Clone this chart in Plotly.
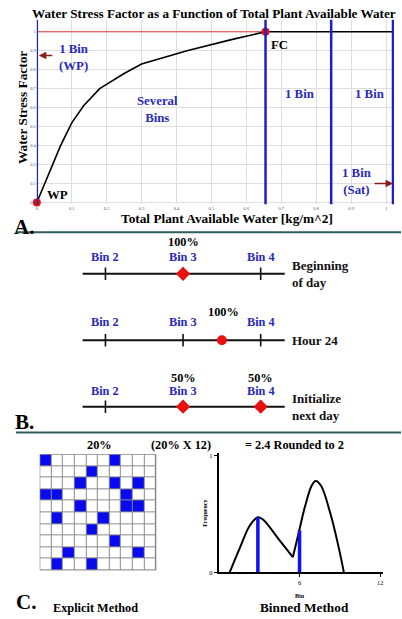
import plotly.graph_objects as go

W, H = 402, 619

# ---------------- Panel A data ----------------
paw_x = [0, 0.034, 0.068, 0.10, 0.134, 0.18, 0.25, 0.30, 0.43, 0.56, 0.655]
wsf_y = [0.10, 0.25, 0.40, 0.52, 0.61, 0.70, 0.78, 0.83, 0.90, 0.96, 1.00]
wp_point = (0.0, 0.10)
fc_point = (0.655, 1.0)
bin_edges = [0.0, 0.655, 0.843, 1.02]
a_xticks = [0, 0.1, 0.2, 0.3, 0.4, 0.5, 0.6, 0.7, 0.8, 0.9, 1.0]
a_yticks = [0.1, 0.2, 0.3, 0.4, 0.5, 0.6, 0.7, 0.8, 0.9, 1.0]

# ---------------- Panel B data ----------------
bin_labels = ["Bin 2", "Bin 3", "Bin 4"]
bin_pos = [2, 3, 4]
row_names = ["Beginning<br>of day", "Hour 24", "Initialize<br>next day"]
row_y = [3, 2, 1]
state_pos = [[3.0], [3.5], [3.0, 4.0]]
state_pct = [["100%"], ["100%"], ["50%", "50%"]]
line_span = [1.705, 4.31]

# ---------------- Panel C data ----------------
grid_n = 10
blue_cells = [(0, 0), (0, 6), (1, 4), (2, 3), (2, 6), (2, 8), (3, 0), (3, 1), (3, 7),
              (4, 3), (4, 7), (4, 8), (5, 1), (5, 5), (6, 4), (7, 6), (8, 2), (8, 8),
              (9, 1), (9, 4)]
freq_x1 = [0.8, 1.6, 2.3, 2.9, 3.3, 4.4, 5.5]
freq_y1 = [0.0, 0.22, 0.40, 0.47, 0.45, 0.29, 0.13]
freq_x2 = [5.5, 5.9, 6.4, 6.9, 7.2, 7.6, 8.3, 8.9, 9.3]
freq_y2 = [0.13, 0.32, 0.56, 0.74, 0.78, 0.74, 0.50, 0.22, 0.0]
sample_bins = [2.9, 6.0]
sample_freq = [0.47, 0.36]
c_xticks = [6, 12]
c_yticks = [0, 1]

SERIF = "Liberation Serif"
BLUE = "#1f1fc8"
TXTBLUE = "#2a2ac0"
DARKRED = "#8b1a1a"


def px(x):
    return x / W


def py(y):
    return 1 - y / H


fig = go.Figure()

# ---- Panel A traces ----
fig.add_trace(go.Scatter(x=[0, fc_point[0]], y=[1.0, 1.0], mode="lines",
                         line=dict(color="#d83a3a", width=1), xaxis="x", yaxis="y",
                         hoverinfo="skip"))
fig.add_trace(go.Scatter(x=[fc_point[0], bin_edges[-1]], y=[1.0, 1.0], mode="lines",
                         line=dict(color="black", width=1.5), xaxis="x", yaxis="y",
                         hoverinfo="skip"))
fig.add_trace(go.Scatter(x=paw_x, y=wsf_y, mode="lines", line=dict(color="black", width=1.6),
                         xaxis="x", yaxis="y"))
fig.add_trace(go.Scatter(x=[wp_point[0], fc_point[0]], y=[wp_point[1], fc_point[1]], mode="markers",
                         marker=dict(color="#e01010", size=8), xaxis="x", yaxis="y",
                         cliponaxis=False))

shapes = []
for e in bin_edges:
    shapes.append(dict(type="line", xref="x", yref="y domain", x0=e, x1=e, y0=0, y1=1,
                       line=dict(color=BLUE, width=2.5), layer="above"))

# ---- Panel B traces ----
for i, ry in enumerate(row_y):
    fig.add_trace(go.Scatter(x=line_span, y=[ry, ry], mode="lines",
                             line=dict(color="#111", width=2), xaxis="x2", yaxis="y2"))
    fig.add_trace(go.Scatter(x=bin_pos, y=[ry] * len(bin_pos), mode="markers",
                             marker=dict(symbol="line-ns", size=9,
                                         line=dict(color="#111", width=1.6)),
                             xaxis="x2", yaxis="y2"))
    sym = "circle" if len(state_pos[i]) == 1 and state_pos[i][0] not in bin_pos else "diamond"
    fig.add_trace(go.Scatter(x=state_pos[i], y=[ry] * len(state_pos[i]), mode="markers",
                             marker=dict(symbol=sym, size=11 if sym == "diamond" else 10,
                                         color="#e81010"),
                             xaxis="x2", yaxis="y2"))

# ---- Panel C grid ----
z = [[0] * grid_n for _ in range(grid_n)]
for r, c in blue_cells:
    z[r][c] = 1
fig.add_trace(go.Heatmap(z=z, x=list(range(grid_n)), y=list(range(grid_n)),
                         colorscale=[[0, "white"], [1, "#0a0af0"]], showscale=False,
                         xgap=1, ygap=1, xaxis="x3", yaxis="y3", hoverinfo="skip"))
shapes.append(dict(type="rect", xref="x3", yref="y3", x0=-0.5, x1=grid_n - 0.5,
                   y0=-0.5, y1=grid_n - 0.5, fillcolor="#8a8a8a",
                   line=dict(color="#8a8a8a", width=1), layer="below"))
shapes.append(dict(type="rect", xref="x3", yref="y3", x0=-0.5, x1=grid_n - 0.5,
                   y0=-0.5, y1=grid_n - 0.5, line=dict(color="#8a8a8a", width=1),
                   layer="above"))

# ---- Panel C binned ----
for xs, ys in ((freq_x1, freq_y1), (freq_x2, freq_y2)):
    fig.add_trace(go.Scatter(x=xs, y=ys, mode="lines", line=dict(color="black", width=2, shape="spline"),
                             xaxis="x4", yaxis="y4", cliponaxis=False))
for bx, bf in zip(sample_bins, sample_freq):
    fig.add_trace(go.Scatter(x=[bx, bx], y=[0, bf], mode="lines",
                             line=dict(color="#1010f0", width=3.5), xaxis="x4", yaxis="y4"))

# separators
for yy in (232, 434):
    shapes.append(dict(type="line", xref="paper", yref="paper", x0=px(15), x1=px(402),
                       y0=py(yy), y1=py(yy), line=dict(color="#2e5f5a", width=2)))

ann = []


def T(text, x, y, size=11, color="black", bold=True, xanchor="center", angle=0, family=SERIF, align="center"):
    ann.append(dict(text=("<b>%s</b>" % text) if bold else text, x=px(x), y=py(y), xref="paper",
                    yref="paper", showarrow=False, xanchor=xanchor, yanchor="middle",
                    textangle=angle, align=align,
                    font=dict(family=family, size=size, color=color)))


# Panel A texts
T("Water Stress Factor as a Function of Total Plant Available Water", 214, 12, size=13.2)
T("Water Stress Factor", 21, 106, size=13.3, angle=-90)
T("Total Plant Available Water [kg/m^2]", 227, 218, size=13.3)
T("1 Bin<br>(WP)", 73, 56, size=12.8, color=TXTBLUE)
T("Several<br>Bins", 157, 108, size=12.8, color=TXTBLUE)
T("1 Bin", 300, 93, size=12.8, color=TXTBLUE)
T("1 Bin", 370, 93, size=12.8, color=TXTBLUE)
T("1 Bin<br>(Sat)", 357, 181, size=12.8, color=TXTBLUE)
T("FC", 280, 43, size=12.8)
T("WP", 57, 195, size=12.8)
T("A.", 23, 227, size=21)
ann.append(dict(text="", x=px(38), y=py(54), xref="paper", yref="paper", ax=15, ay=0,
                showarrow=True, arrowhead=2, arrowsize=1, arrowwidth=1.5, arrowcolor=DARKRED))
ann.append(dict(text="", x=px(394), y=py(183), xref="paper", yref="paper", ax=-20, ay=0,
                showarrow=True, arrowhead=2, arrowsize=1, arrowwidth=1.5, arrowcolor=DARKRED))

# Panel B texts (positioned on data scale)
label_shift = [17, 18, 16]
pct_shift = [32, 28, 29]
for i, ry in enumerate(row_y):
    for bp, bl in zip(bin_pos, bin_labels):
        ann.append(dict(text="<b>%s</b>" % bl, x=bp, y=ry, xref="x2", yref="y2", showarrow=False,
                        yshift=label_shift[i], font=dict(family=SERIF, size=12.3, color=TXTBLUE)))
    for sp, pc in zip(state_pos[i], state_pct[i]):
        ann.append(dict(text="<b>%s</b>" % pc, x=sp, y=ry, xref="x2", yref="y2", showarrow=False,
                        yshift=pct_shift[i], xshift=2 if i == 1 else 0,
                        font=dict(family=SERIF, size=12.3, color="black")))
    ann.append(dict(text="<b>%s</b>" % row_names[i], x=4.372, y=ry, xref="x2", yref="y2",
                    showarrow=False, xanchor="left", align="left",
                    font=dict(family=SERIF, size=13, color="#111")))
T("B.", 24, 423, size=21)

# Panel C texts
T("20%", 99, 447, size=12.3)
T("(20% X 12)", 181, 447, size=12.3)
T("= 2.4 Rounded to 2", 295, 447, size=12.3)
T("C.", 25, 605, size=21)
T("Explicit Method", 95, 611, size=12.3)
T("Binned Method", 305, 610, size=13.3)
T("Frequency", 205, 515, size=6, angle=-90)
T("Bin", 300, 599, size=6)

fig.update_layout(
    width=W, height=H, margin=dict(l=0, r=0, t=0, b=0),
    paper_bgcolor="white", plot_bgcolor="white", showlegend=False,
    shapes=shapes, annotations=ann,
    xaxis=dict(domain=[px(36), px(395)], range=[0, 1.023], anchor="y",
               tickvals=a_xticks, showgrid=True, gridcolor="#dedede", gridwidth=1,
               zeroline=False, showline=False, ticks="",
               tickfont=dict(size=4.5, color="#555", family=SERIF)),
    yaxis=dict(domain=[py(204), py(18)], range=[0.09, 1.063], anchor="x",
               tickvals=a_yticks, showgrid=True, gridcolor="#dedede", gridwidth=1,
               zeroline=False, showline=False, ticks="",
               tickfont=dict(size=4.5, color="#555", family=SERIF)),
    xaxis2=dict(domain=[0, 1], range=[0.654, 5.808], anchor="y2", visible=False),
    yaxis2=dict(domain=[py(432), py(235)], range=[0.642, 3.582], anchor="x2", visible=False),
    xaxis3=dict(domain=[px(39), px(156)], range=[-0.5, 9.5], anchor="y3", visible=False),
    yaxis3=dict(domain=[py(573), py(456)], range=[9.5, -0.5], anchor="x3", visible=False),
    xaxis4=dict(domain=[px(219), px(383.5)], range=[0, 12.18], anchor="y4",
                tickvals=c_xticks, showline=True, linecolor="black", linewidth=2,
                ticks="outside", ticklen=3, tickcolor="black", showgrid=False, zeroline=False,
                tickfont=dict(size=6.5, family=SERIF, color="black")),
    yaxis4=dict(domain=[py(575), py(455)], range=[0, 1.017], anchor="x4",
                tickvals=c_yticks, showline=True, linecolor="black", linewidth=2,
                ticks="outside", ticklen=3, tickcolor="black", showgrid=False, zeroline=False,
                tickfont=dict(size=6.5, family=SERIF, color="black")),
)

fig.write_html("out.html", config={"displayModeBar": False},
               post_script="document.body.style.margin='0';document.body.style.overflow='hidden';")
